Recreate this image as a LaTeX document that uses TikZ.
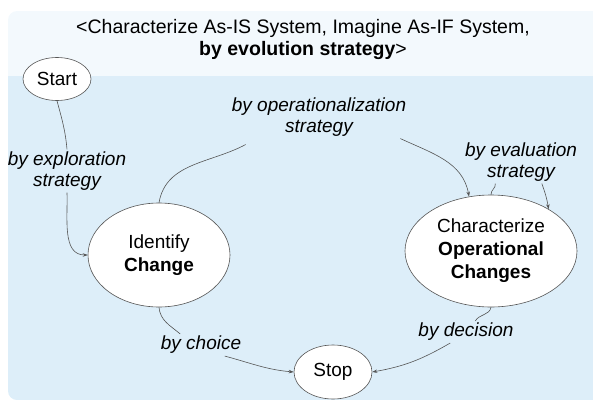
\documentclass[tikz,border=0pt]{standalone}
\usepackage{fontspec}
\setmainfont{Liberation Sans}
\usetikzlibrary{arrows.meta, shapes.geometric, positioning}
\definecolor{paneltop}{HTML}{F3F9FD}
\definecolor{panellow}{HTML}{DDEEF9}
\definecolor{edgegray}{HTML}{555555}

\begin{document}
\begin{tikzpicture}[
  x=1pt, y=-1pt,
  >={Stealth[length=5pt,width=3.5pt]},
  goal/.style={ellipse, draw=edgegray, line width=0.6pt, fill=white, align=center, inner sep=0pt, font=\fontsize{19}{23}\selectfont},
  strat/.style={align=center, inner sep=2pt, font=\fontsize{19}{21}\selectfont\itshape},
  link/.style={draw=edgegray, line width=0.6pt},
  flow/.style={link, ->}
  ]
  \useasboundingbox (0,0) rectangle (593,401);
  % Panel
  \begin{scope}
  \clip[rounded corners=9pt] (8,11) rectangle (620,400);
  \fill[paneltop] (8,11) rectangle (620,76);
  \fill[panellow] (8,76) rectangle (620,400);
  \end{scope}
  \node[align=center, font=\fontsize{19.5}{22}\selectfont] (heading) at (303,40)
    {<Characterize As-IS System, Imagine As-IF System,\\\textbf{by evolution strategy}>};

  % Goals
  \node[goal, minimum width=68pt, minimum height=43pt] (start) at (57,79) {Start};
  \node[goal, minimum width=142pt, minimum height=104pt] (identify) at (159,255) {Identify\\\textbf{Change}};
  \node[goal, minimum width=172pt, minimum height=112pt] (characterize) at (491,251) {Characterize\\\textbf{Operational}\\\textbf{Changes}};
  \node[goal, minimum width=78pt, minimum height=54pt] (stop) at (333,372) {Stop};

  % Strategies
  \node[strat] (explore) at (67,171) {by exploration\\strategy};
  \node[strat] (opstrat) at (319,117) {by operationalization\\strategy};
  \node[strat] (evalstrat) at (521,162) {by evaluation\\strategy};
  \node[strat] (choice) at (201,345) {by choice};
  \node[strat] (decision) at (466,332) {by decision};

  \draw[link] (start.south) to[out=-75,in=95] (explore.north);
  \draw[flow] (explore.south) to[out=-88,in=180] (identify.west);
  \draw[link] (identify.north) to[out=80,in=208] ([xshift=16pt,yshift=-6pt]opstrat.south west);
  \draw[flow] ([xshift=-8pt]opstrat.south east) to[out=-25,in=100] (characterize.112);
  \draw[link] (characterize.north) to[out=95,in=-80] (evalstrat.220);
  \draw[flow] (evalstrat.-46) to[out=-70,in=100] (characterize.36);
  \draw[link] (identify.south) to[out=-85,in=140] (choice.152);
  \draw[flow] (choice.-25) to[out=-15,in=175] (stop.west);
  \draw[link] (characterize.south) to[out=-100,in=60] (decision.50);
  \draw[flow] (decision.215) to[out=-150,in=10] (stop.east);
\end{tikzpicture}
\end{document}
